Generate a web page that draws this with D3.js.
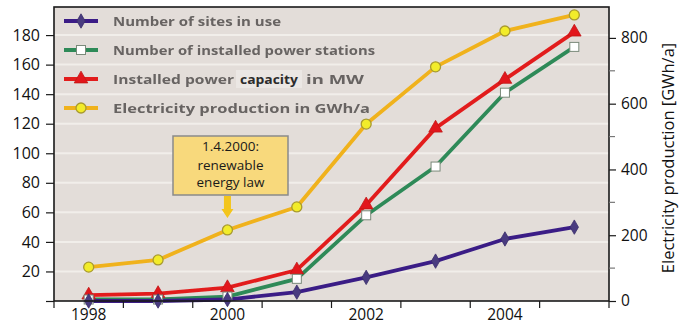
<!DOCTYPE html>
<html>
<head>
<meta charset="utf-8">
<script src="https://cdn.jsdelivr.net/npm/d3@7"></script>
<style>
  html, body { margin: 0; padding: 0; background: #ffffff; }
  svg { display: block; }
  text { font-family: "Open Sans", "DejaVu Sans", sans-serif; }
</style>
</head>
<body>
<svg id="chart" width="688" height="325"></svg>
<script>
// Wind energy development, 1998-2005
const years = [1998, 1999, 2000, 2001, 2002, 2003, 2004, 2005];
const sitesInUse = [0, 0, 1, 6, 16, 27, 42, 50];
const installedStations = [1, 1, 3, 15, 58, 91, 141, 172];
const installedCapacityMW = [4, 5, 9, 21, 65, 117, 150, 182];
const electricityGWh = [103, 125, 216, 286, 538, 712, 821, 870];

const leftTicks = [0, 20, 40, 60, 80, 100, 120, 140, 160, 180];
const rightTicks = [0, 200, 400, 600, 800];
const rightMinorTicks = [100, 300, 500, 700];
const yearLabels = [1998, 2000, 2002, 2004];

const legendLabels = [
  "Number of sites in use",
  "Number of installed power stations",
  "Installed power capacity in MW",
  "Electricity production in GWh/a"
];
const capacityParts = ["Installed power", "capacity", "in MW"];
const rightTitle = "Electricity production [GWh/a]";
const noteLines = ["1.4.2000:", "renewable", "energy law"];

const svg = d3.select("#chart");
const plot = { left: 54, right: 609, top: 7, bottom: 301 };

const x = d3.scaleLinear().domain([1997.5, 2005.5]).range([plot.left, plot.right]);
const yLeft = d3.scaleLinear().domain([0, 199]).range([plot.bottom, plot.top]);
const yRight = d3.scaleLinear().domain([0, 894]).range([plot.bottom, plot.top]);

const defs = svg.append("defs");
defs.append("filter").attr("id", "soft")
  .append("feGaussianBlur").attr("stdDeviation", 0.6);
defs.append("filter").attr("id", "softLine")
  .append("feGaussianBlur").attr("stdDeviation", 0.4);

// plot background
svg.append("rect")
  .attr("x", plot.left).attr("y", plot.top)
  .attr("width", plot.right - plot.left).attr("height", plot.bottom - plot.top)
  .attr("fill", "#e3ddd9");

// light horizontal grid lines
svg.append("g").selectAll("line")
  .data(leftTicks.filter(d => d > 0))
  .join("line")
  .attr("x1", plot.left).attr("x2", plot.right)
  .attr("y1", d => yLeft(d)).attr("y2", d => yLeft(d))
  .attr("stroke", "#f4f1ee").attr("stroke-width", 2).attr("opacity", 0.85);

// legend
const legendColors = ["#3a1f86", "#2f8a58", "#e21f1f", "#f0b21c"];
const legendY = [21, 50, 79, 108];
const legendWidths = [168, 262, null, 257];
const legendText = "#676462";
const lg = svg.append("g");

function legendLabel(xPos, y, str, len, fill, blur) {
  const t = lg.append("text").attr("x", xPos).attr("y", y)
    .attr("font-size", 13).attr("font-weight", 700).attr("fill", fill)
    .attr("textLength", len).attr("lengthAdjust", "spacingAndGlyphs")
    .text(str);
  if (blur) t.attr("filter", "url(#soft)");
  return t;
}

legendLabels.forEach((label, i) => {
  const cy = legendY[i];
  const g = lg.append("g").attr("filter", "url(#softLine)");
  g.append("line").attr("x1", 64).attr("x2", 98).attr("y1", cy).attr("y2", cy)
    .attr("stroke", legendColors[i]).attr("stroke-width", 3.8);
  drawMarker(g, i, 81, cy);
  if (i === 2) {
    legendLabel(113, cy + 4.5, capacityParts[0], 121, legendText, true);
    lg.append("rect").attr("x", 236).attr("y", cy - 9).attr("width", 66).attr("height", 18)
      .attr("fill", "#ebe7e4");
    legendLabel(240, cy + 4.5, capacityParts[1], 58, "#2c2c2c", false);
    legendLabel(306, cy + 4.5, capacityParts[2], 58, legendText, true);
  } else {
    legendLabel(113, cy + 4.5, label, legendWidths[i], legendText, true);
  }
});

// series lines
const series = [
  { values: sitesInUse, scale: yLeft, idx: 0 },
  { values: installedStations, scale: yLeft, idx: 1 },
  { values: installedCapacityMW, scale: yLeft, idx: 2 },
  { values: electricityGWh, scale: yRight, idx: 3 }
];
const lines = svg.append("g").attr("filter", "url(#softLine)");
series.slice().reverse().forEach(s => {
  const line = d3.line().x((d, i) => x(years[i])).y(d => s.scale(d));
  lines.append("path").datum(s.values)
    .attr("d", line).attr("fill", "none")
    .attr("stroke", legendColors[s.idx]).attr("stroke-width", 3.8)
    .attr("stroke-linejoin", "round").attr("stroke-linecap", "round");
});
series.slice().reverse().forEach(s => {
  s.values.forEach((v, i) => drawMarker(lines, s.idx, x(years[i]), s.scale(v)));
});

function drawMarker(g, idx, cx, cy) {
  if (idx === 0) {
    g.append("path")
      .attr("d", d3.symbol().type(d3.symbolDiamond).size(60)())
      .attr("transform", `translate(${cx},${cy})`)
      .attr("fill", "#4a3a80").attr("stroke", "#3a2f6a").attr("stroke-width", 0.8);
  } else if (idx === 1) {
    g.append("rect").attr("x", cx - 4.5).attr("y", cy - 4.5)
      .attr("width", 9).attr("height", 9)
      .attr("fill", "#ffffff").attr("stroke", "#7a8a7a").attr("stroke-width", 1);
  } else if (idx === 2) {
    g.append("path")
      .attr("d", d3.symbol().type(d3.symbolTriangle).size(80)())
      .attr("transform", `translate(${cx},${cy})`)
      .attr("fill", "#e2191c").attr("stroke", "#c01818").attr("stroke-width", 0.8);
  } else {
    g.append("circle").attr("cx", cx).attr("cy", cy).attr("r", 5)
      .attr("fill", "#f2ec2a").attr("stroke", "#a89a30").attr("stroke-width", 1.3);
  }
}

// annotation: law of 1.4.2000
const noteX = x(2000);
const ann = svg.append("g");
ann.append("path")
  .attr("d", d3.line()([[noteX - 3.5, 196], [noteX + 3.5, 196], [noteX + 3.5, 209],
    [noteX + 6, 209], [noteX, 218], [noteX - 6, 209], [noteX - 3.5, 209]]))
  .attr("fill", "#f3c51a").attr("filter", "url(#softLine)");
ann.append("rect")
  .attr("x", 173).attr("y", 136).attr("width", 115).attr("height", 59)
  .attr("fill", "#f8d97c").attr("stroke", "#8a8a8a").attr("stroke-width", 1.5);
ann.selectAll("text.note").data(noteLines).join("text")
  .attr("class", "note")
  .attr("x", 230.5).attr("y", (d, i) => [150.5, 170, 187][i])
  .attr("text-anchor", "middle").attr("font-size", 13.5).attr("fill", "#1a1a1a")
  .text(d => d);

// frame
svg.append("rect")
  .attr("x", plot.left).attr("y", plot.top)
  .attr("width", plot.right - plot.left).attr("height", plot.bottom - plot.top)
  .attr("fill", "none").attr("stroke", "#1a1a1a").attr("stroke-width", 1.6);

// left axis
const leftAxis = d3.axisLeft(yLeft).tickValues(leftTicks)
  .tickFormat(d => d === 0 ? "" : d).tickSize(8).tickPadding(6);
const gl = svg.append("g").attr("transform", `translate(${plot.left},0)`).call(leftAxis);
gl.select(".domain").remove();
gl.selectAll("line").attr("stroke", "#1a1a1a").attr("stroke-width", 1.2);
gl.selectAll("text").attr("font-size", 16).attr("fill", "#111");

// right axis
const rightAxis = d3.axisRight(yRight).tickValues(rightTicks).tickSize(7).tickPadding(5);
const gr = svg.append("g").attr("transform", `translate(${plot.right},0)`).call(rightAxis);
gr.select(".domain").remove();
gr.selectAll("line").attr("stroke", "#1a1a1a").attr("stroke-width", 1.2);
gr.selectAll("text").attr("font-size", 15.5).attr("fill", "#111");
svg.append("g").selectAll("line").data(rightMinorTicks).join("line")
  .attr("x1", plot.right).attr("x2", plot.right + 6)
  .attr("y1", d => yRight(d)).attr("y2", d => yRight(d))
  .attr("stroke", "#777").attr("stroke-width", 1.2);

// bottom axis: tick marks at year boundaries, labels at year centres
const boundaries = d3.range(1997.5, 2005.6, 1);
svg.append("g").selectAll("line").data(boundaries).join("line")
  .attr("x1", d => x(d)).attr("x2", d => x(d))
  .attr("y1", plot.bottom).attr("y2", plot.bottom + 7)
  .attr("stroke", "#1a1a1a").attr("stroke-width", 1.2);
svg.append("g").selectAll("text").data(yearLabels).join("text")
  .attr("x", d => x(d)).attr("y", 316)
  .attr("dominant-baseline", "middle")
  .attr("text-anchor", "middle").attr("font-size", 15.5).attr("fill", "#111")
  .text(d => d);

// right axis title
svg.append("text")
  .attr("transform", `translate(674,${(plot.top + plot.bottom) / 2 + 4}) rotate(-90)`)
  .attr("text-anchor", "middle").attr("font-size", 16.5).attr("fill", "#111")
  .text(rightTitle);
</script>
</body>
</html>
